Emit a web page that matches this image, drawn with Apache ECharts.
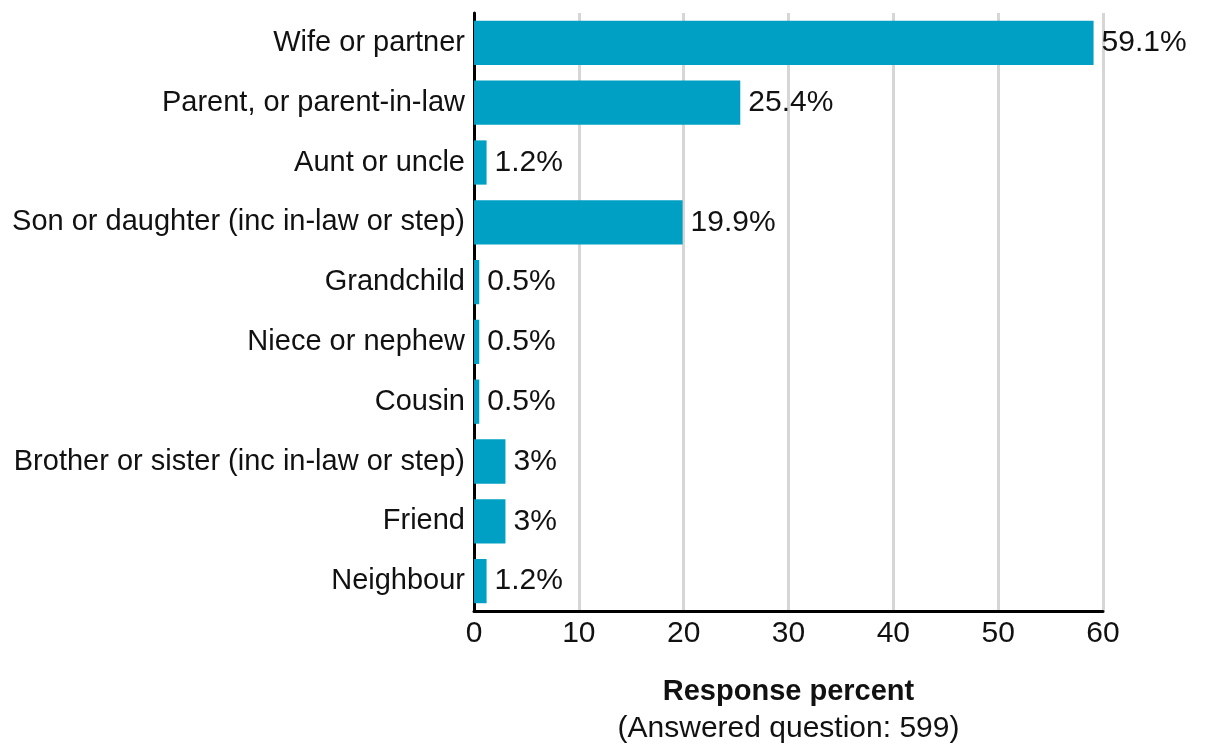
<!DOCTYPE html>
<html>
<head>
<meta charset="utf-8">
<script src="https://cdn.jsdelivr.net/npm/echarts@6/dist/echarts.min.js"></script>
<style>
  html, body { margin: 0; padding: 0; background: #fff; }
  #chart { width: 1210px; height: 744px; }
</style>
</head>
<body>
<div id="chart"></div>
<script>
// Relationship of carer to the person cared for
const categories = [
  'Wife or partner',
  'Parent, or parent-in-law',
  'Aunt or uncle',
  'Son or daughter (inc in-law or step)',
  'Grandchild',
  'Niece or nephew',
  'Cousin',
  'Brother or sister (inc in-law or step)',
  'Friend',
  'Neighbour'
];
const responsePercent = [59.1, 25.4, 1.2, 19.9, 0.5, 0.5, 0.5, 3, 3, 1.2];
const xTicks = [0, 10, 20, 30, 40, 50, 60];

const FONT = '"Liberation Sans", Arial, sans-serif';
const chart = echarts.init(document.getElementById('chart'));

chart.setOption({
  animation: false,
  grid: {
    left: 474, right: 107, top: 13, bottom: 133,
    containLabel: false,
    outerBoundsMode: 'none'
  },
  xAxis: {
    type: 'value',
    min: xTicks[0],
    max: xTicks[xTicks.length - 1],
    interval: xTicks[1] - xTicks[0],
    axisLine: { show: true, lineStyle: { color: '#000', width: 3 } },
    axisTick: { show: false },
    splitLine: { show: true, lineStyle: { color: '#d6d6d6', width: 3 } },
    axisLabel: { color: '#111', fontSize: 30, fontFamily: FONT, margin: 8 },
    name: '{t|Response percent}\n{s|(Answered question: 599)}',
    nameLocation: 'middle',
    nameGap: 62,
    nameTextStyle: {
      rich: {
        t: { fontSize: 29, fontWeight: 'bold', color: '#111', fontFamily: FONT, lineHeight: 38 },
        s: { fontSize: 30, color: '#111', fontFamily: FONT, lineHeight: 36 }
      }
    }
  },
  yAxis: {
    type: 'category',
    data: categories,
    inverse: true,
    axisLine: { show: true, lineStyle: { color: '#000', width: 3 } },
    axisTick: { show: false },
    axisLabel: { color: '#111', fontSize: 29, fontFamily: FONT, margin: 9 }
  },
  series: [{
    type: 'bar',
    data: responsePercent,
    barCategoryGap: '26%',
    itemStyle: { color: '#00A0C4' },
    label: {
      show: true,
      position: 'right',
      distance: 8,
      color: '#111',
      fontSize: 30,
      fontFamily: FONT,
      formatter: p => p.value + '%'
    }
  }]
});
</script>
</body>
</html>
